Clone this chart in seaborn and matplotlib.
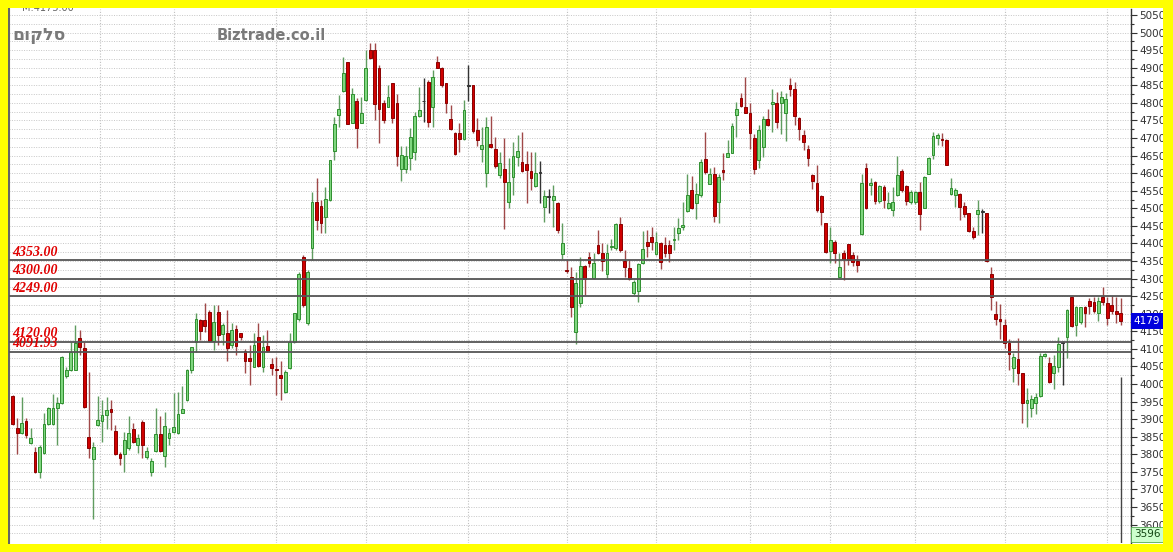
import numpy as np
import pandas as pd
import matplotlib
matplotlib.use('Agg')
import matplotlib.pyplot as plt
import matplotlib.transforms as mtransforms
from matplotlib.patches import Rectangle
import seaborn as sns

# daily candles (oldest first)
opens = [3966, 3876, 3861, 3895, 3831, 3807, 3750, 3803, 3886, 3886,
         3931, 3945, 4023, 4040, 4041, 4132, 4101, 3850, 3786, 3883,
         3896, 3912, 3928, 3867, 3801, 3801, 3817, 3871, 3826, 3893,
         3793, 3750, 3810, 3859, 3795, 3847, 3864, 3861, 3916, 3954,
         4040, 4120, 4182, 4182, 4206, 4123, 4206, 4142, 4144, 4111,
         4156, 4146, 4095, 4073, 4049, 4133, 4049, 4108, 4057, 4042,
         4026, 3978, 4045, 4120, 4184, 4361, 4173, 4386, 4519, 4507,
         4476, 4524, 4664, 4766, 4835, 4915, 4744, 4806, 4744, 4808,
         4951, 4951, 4898, 4799, 4789, 4856, 4799, 4611, 4611, 4642,
         4661, 4763, 4804, 4860, 4788, 4915, 4898, 4856, 4753, 4715,
         4715, 4696, 4849, 4851, 4723, 4668, 4600, 4683, 4669, 4595,
         4612, 4519, 4590, 4647, 4633, 4626, 4607, 4564, 4600, 4503,
         4533, 4524, 4514, 4370, 4324, 4305, 4149, 4231, 4336, 4360,
         4303, 4395, 4372, 4313, 4390, 4386, 4455, 4351, 4329, 4258,
         4265, 4343, 4405, 4417, 4370, 4402, 4395, 4395, 4410, 4429,
         4448, 4493, 4552, 4516, 4538, 4641, 4569, 4598, 4519, 4609,
         4647, 4658, 4765, 4813, 4789, 4772, 4699, 4637, 4675, 4753,
         4797, 4801, 4799, 4772, 4851, 4839, 4756, 4709, 4668, 4595,
         4573, 4535, 4457, 4379, 4405, 4305, 4374, 4398, 4367, 4351,
         4427, 4616, 4565, 4576, 4521, 4561, 4500, 4495, 4538, 4607,
         4563, 4519, 4519, 4547, 4502, 4599, 4651, 4699, 4695, 4694,
         4542, 4538, 4542, 4507, 4488, 4436, 4484, 4490, 4486, 4313,
         4199, 4184, 4168, 4116, 4045, 4070, 4032, 3945, 3933, 3945,
         3966, 4080, 4061, 4032, 4049, 4116, 4133, 4248, 4168, 4177,
         4218, 4237, 4234, 4203, 4247, 4231, 4225, 4209, 4201]
highs = [3969, 3902, 3964, 3902, 3874, 3822, 3826, 3918, 3935, 3971,
         3962, 4080, 4049, 4120, 4168, 4154, 4120, 4035, 3836, 3966,
         3954, 3964, 3954, 3883, 3807, 3864, 3909, 3890, 3859, 3898,
         3822, 3788, 3933, 3909, 3921, 3874, 3973, 3978, 3994, 4044,
         4106, 4203, 4185, 4230, 4211, 4225, 4225, 4173, 4211, 4173,
         4168, 4146, 4099, 4111, 4144, 4173, 4139, 4154, 4073, 4078,
         4064, 4040, 4144, 4201, 4320, 4367, 4325, 4547, 4585, 4524,
         4562, 4638, 4761, 4823, 4932, 4917, 4842, 4813, 4816, 4951,
         4970, 4970, 4908, 4808, 4851, 4856, 4825, 4676, 4676, 4728,
         4775, 4844, 4870, 4865, 4894, 4934, 4903, 4856, 4794, 4718,
         4742, 4808, 4908, 4851, 4756, 4732, 4761, 4763, 4704, 4661,
         4699, 4642, 4690, 4709, 4718, 4664, 4661, 4661, 4635, 4552,
         4554, 4566, 4519, 4457, 4353, 4334, 4319, 4362, 4338, 4376,
         4373, 4438, 4400, 4398, 4414, 4459, 4476, 4381, 4353, 4296,
         4345, 4436, 4438, 4446, 4433, 4405, 4419, 4410, 4448, 4471,
         4519, 4599, 4592, 4571, 4639, 4718, 4614, 4617, 4599, 4656,
         4694, 4742, 4803, 4827, 4875, 4801, 4711, 4737, 4763, 4784,
         4839, 4832, 4835, 4829, 4870, 4860, 4761, 4723, 4680, 4599,
         4623, 4538, 4457, 4448, 4410, 4372, 4381, 4398, 4377, 4367,
         4599, 4628, 4585, 4578, 4566, 4566, 4547, 4561, 4649, 4613,
         4566, 4552, 4550, 4575, 4592, 4645, 4718, 4715, 4713, 4696,
         4585, 4557, 4544, 4519, 4488, 4448, 4524, 4497, 4486, 4334,
         4237, 4228, 4184, 4127, 4089, 4130, 4032, 3988, 3969, 3973,
         4087, 4087, 4076, 4082, 4135, 4123, 4212, 4248, 4222, 4220,
         4222, 4244, 4247, 4247, 4277, 4247, 4249, 4247, 4244]
lows = [3883, 3801, 3859, 3845, 3829, 3746, 3731, 3801, 3883, 3883,
        3826, 3943, 4016, 4038, 4040, 4082, 3933, 3788, 3615, 3880,
        3836, 3871, 3869, 3798, 3769, 3750, 3812, 3831, 3803, 3788,
        3786, 3738, 3807, 3807, 3765, 3826, 3861, 3859, 3916, 3952,
        4030, 4092, 4125, 4149, 4120, 4097, 4111, 4111, 4064, 4101,
        4082, 4125, 4030, 3997, 4047, 4049, 4035, 4092, 4026, 3969,
        3954, 3973, 4042, 4118, 4180, 4220, 4168, 4353, 4438, 4429,
        4429, 4522, 4638, 4732, 4832, 4740, 4742, 4671, 4742, 4804,
        4924, 4751, 4685, 4742, 4788, 4744, 4619, 4579, 4600, 4609,
        4638, 4761, 4747, 4732, 4731, 4898, 4844, 4772, 4723, 4652,
        4661, 4694, 4804, 4713, 4676, 4633, 4560, 4671, 4614, 4585,
        4440, 4500, 4538, 4619, 4604, 4514, 4552, 4562, 4514, 4462,
        4488, 4448, 4429, 4357, 4315, 4191, 4115, 4220, 4253, 4334,
        4300, 4370, 4322, 4298, 4381, 4381, 4376, 4305, 4296, 4253,
        4234, 4341, 4362, 4381, 4367, 4326, 4362, 4348, 4381, 4410,
        4438, 4490, 4497, 4469, 4533, 4599, 4569, 4462, 4459, 4580,
        4645, 4656, 4702, 4789, 4770, 4668, 4598, 4614, 4647, 4734,
        4718, 4728, 4711, 4692, 4820, 4737, 4694, 4666, 4620, 4554,
        4490, 4452, 4374, 4343, 4343, 4305, 4296, 4339, 4336, 4320,
        4424, 4497, 4538, 4512, 4514, 4500, 4497, 4478, 4535, 4547,
        4509, 4512, 4512, 4438, 4500, 4597, 4639, 4680, 4677, 4622,
        4538, 4503, 4466, 4476, 4433, 4414, 4424, 4429, 4348, 4211,
        4168, 4127, 4101, 4040, 4007, 3997, 3888, 3878, 3905, 3915,
        3964, 4076, 4002, 3985, 4035, 3997, 4073, 4161, 4137, 4171,
        4161, 4199, 4203, 4180, 4225, 4168, 4199, 4174, 4168]
closes = [3886, 3861, 3888, 3855, 3845, 3750, 3822, 3886, 3931, 3931,
          3947, 4078, 4040, 4092, 4116, 4106, 3935, 3817, 3822, 3897,
          3912, 3926, 3920, 3801, 3788, 3841, 3861, 3836, 3847, 3826,
          3810, 3782, 3859, 3810, 3880, 3861, 3877, 3915, 3928, 4040,
          4104, 4185, 4152, 4165, 4123, 4177, 4139, 4168, 4101, 4154,
          4108, 4135, 4064, 4064, 4111, 4051, 4106, 4095, 4045, 4040,
          4016, 4035, 4120, 4201, 4313, 4225, 4320, 4519, 4467, 4459,
          4526, 4638, 4740, 4782, 4886, 4740, 4825, 4728, 4770, 4898,
          4927, 4797, 4782, 4750, 4816, 4756, 4649, 4652, 4649, 4702,
          4763, 4780, 4804, 4747, 4873, 4898, 4851, 4799, 4725, 4655,
          4696, 4780, 4849, 4721, 4694, 4680, 4730, 4674, 4619, 4628,
          4576, 4576, 4649, 4664, 4607, 4609, 4585, 4600, 4600, 4535,
          4533, 4535, 4438, 4402, 4321, 4218, 4288, 4336, 4298, 4343,
          4345, 4373, 4351, 4373, 4392, 4455, 4381, 4334, 4300, 4291,
          4341, 4383, 4392, 4405, 4405, 4348, 4372, 4372, 4412, 4443,
          4453, 4538, 4500, 4541, 4633, 4604, 4598, 4478, 4588, 4604,
          4658, 4734, 4782, 4791, 4772, 4713, 4611, 4723, 4753, 4737,
          4803, 4747, 4818, 4810, 4839, 4763, 4725, 4690, 4642, 4579,
          4495, 4490, 4377, 4410, 4374, 4332, 4355, 4353, 4348, 4339,
          4573, 4500, 4571, 4521, 4563, 4525, 4514, 4519, 4595, 4552,
          4521, 4547, 4547, 4483, 4588, 4642, 4705, 4708, 4694, 4623,
          4559, 4552, 4504, 4484, 4436, 4419, 4495, 4490, 4351, 4247,
          4184, 4180, 4116, 4085, 4076, 4030, 3945, 3954, 3956, 3964,
          4080, 4085, 4007, 4051, 4114, 4116, 4211, 4165, 4218, 4218,
          4203, 4222, 4209, 4237, 4234, 4187, 4209, 4199, 4179]

# support / resistance lines drawn on the chart
levels = [4353.00, 4300.00, 4249.00, 4120.00, 4091.93]
level_labels = ['4353.00', '4300.00', '4249.00', '4120.00', '4091.93']

# candles where a new month starts (vertical grid)
month_starts = [19.5, 36, 59, 79, 102, 124, 144, 165, 183, 202, 222, 245]

last_price = 4179
cursor_price = 3596
cursor_top = 4020

df = pd.DataFrame({'open': opens, 'high': highs, 'low': lows, 'close': closes})
df['idx'] = np.arange(len(df))
df['dir'] = np.where(df['close'] > df['open'], 'up',
                     np.where(df['close'] < df['open'], 'down', 'flat'))

sns.set_theme(style='white')
plt.rcParams['font.family'] = ['DejaVu Sans']

W, H = 1173, 552
fig = plt.figure(figsize=(W / 100, H / 100), dpi=100, facecolor='white')
ax = fig.add_axes([9 / W, 9 / H, 1122 / W, 534 / H])
ax.set_facecolor('white')

ymin, ymax = 3547.4, 5067.2
ax.set_xlim(-0.83, 250.3)
ax.set_ylim(ymin, ymax)

# grid
ax.set_yticks(np.arange(3600, 5051, 50))
ax.set_yticks(np.arange(3575, 5051, 25), minor=True)
ax.set_xticks(month_starts)
ax.set_xticklabels([])
ax.grid(True, which='both', axis='y', color='#c6c6c6', lw=0.7, ls=(0, (1, 1.5)))
ax.grid(True, which='major', axis='x', color='#c0c0c0', lw=0.8, ls=(0, (1, 1.5)))
ax.set_axisbelow(True)

# candles
wick_col = {'up': '#5f9c5f', 'down': '#a04848', 'flat': '#333333'}
fill_col = {'up': '#7fd67f', 'down': '#d00000', 'flat': '#333333'}
edge_col = {'up': '#2f8f2f', 'down': '#8a0000', 'flat': '#333333'}
for d, g in df.groupby('dir'):
    ax.vlines(g['idx'], g['low'], g['high'], colors=wick_col[d], lw=1, zorder=2)
    body_lo = np.minimum(g['open'], g['close'])
    body_h = np.maximum((g['close'] - g['open']).abs(), 2.5)
    ax.bar(g['idx'], body_h, bottom=body_lo, width=0.62,
           color=fill_col[d], edgecolor=edge_col[d], lw=0.7, zorder=3)

# horizontal levels
trans = mtransforms.blended_transform_factory(ax.transAxes, ax.transData)
for lv, lab in zip(levels, level_labels):
    ax.axhline(lv, color='#555555', lw=1.3, zorder=4)
    ax.text(0.003, lv + 4, lab, transform=trans, color='#e00000', fontsize=10,
            family=['Liberation Serif', 'DejaVu Serif'], style='italic',
            weight='bold', va='bottom', ha='left', zorder=5)

# cursor line at the last candle
ax.vlines(len(df) - 1, ymin, cursor_top, colors='#444444', lw=1, zorder=4)

# axis styling
sns.despine(ax=ax, top=True, bottom=True, left=False, right=False)
ax.spines['left'].set_color('#666666')
ax.spines['left'].set_linewidth(1.5)
ax.spines['right'].set_color('#333333')
ax.spines['right'].set_linewidth(1)
ax.yaxis.tick_right()
ax.tick_params(axis='y', which='major', direction='out', length=4, width=0.8,
               color='#333333', labelsize=7.5, labelcolor='#333333', pad=2)
ax.tick_params(axis='y', which='minor', direction='out', length=2, width=0.8,
               color='#333333')
ax.tick_params(axis='x', length=0)
ax.set_yticklabels([str(v) for v in np.arange(3600, 5051, 50)])

# price tags on the scale
ax.text(1.0025, last_price, str(last_price), transform=trans, color='white',
        fontsize=7.5, va='center', ha='left', zorder=6,
        bbox=dict(boxstyle='square,pad=0.3', fc='#0000dd', ec='none'))
ax.text(1.0025, cursor_price - 24, str(cursor_price), transform=trans,
        color='#114411', fontsize=7.5, va='center', ha='left', zorder=6,
        bbox=dict(boxstyle='square,pad=0.25', fc='#ccffcc', ec='#55aa55', lw=0.6))

# titles
fig.text(22 / W, 1 - 8 / H, 'M:4175.00', color='#666666', fontsize=7,
         va='center', ha='left', zorder=5)
fig.text(12 / W, 1 - 35 / H, 'סלקום'[::-1], color='#7a7a7a', fontsize=12.5,
         weight='bold', va='center', ha='left', zorder=5)
fig.text(217 / W, 1 - 35 / H, 'Biztrade.co.il', color='#7a7a7a', fontsize=10.5,
         weight='bold', va='center', ha='left', zorder=5)

# yellow frame
for x0, y0, w, h in [(0, 0, 8, H), (1163, 0, W - 1163, H), (0, 0, W, 8), (0, H - 8, W, 8)]:
    fig.patches.append(Rectangle((x0 / W, y0 / H), w / W, h / H, transform=fig.transFigure,
                                 fc='#ffff00', ec='none', zorder=10))

fig.savefig('out.png', dpi=100, facecolor=fig.get_facecolor())
